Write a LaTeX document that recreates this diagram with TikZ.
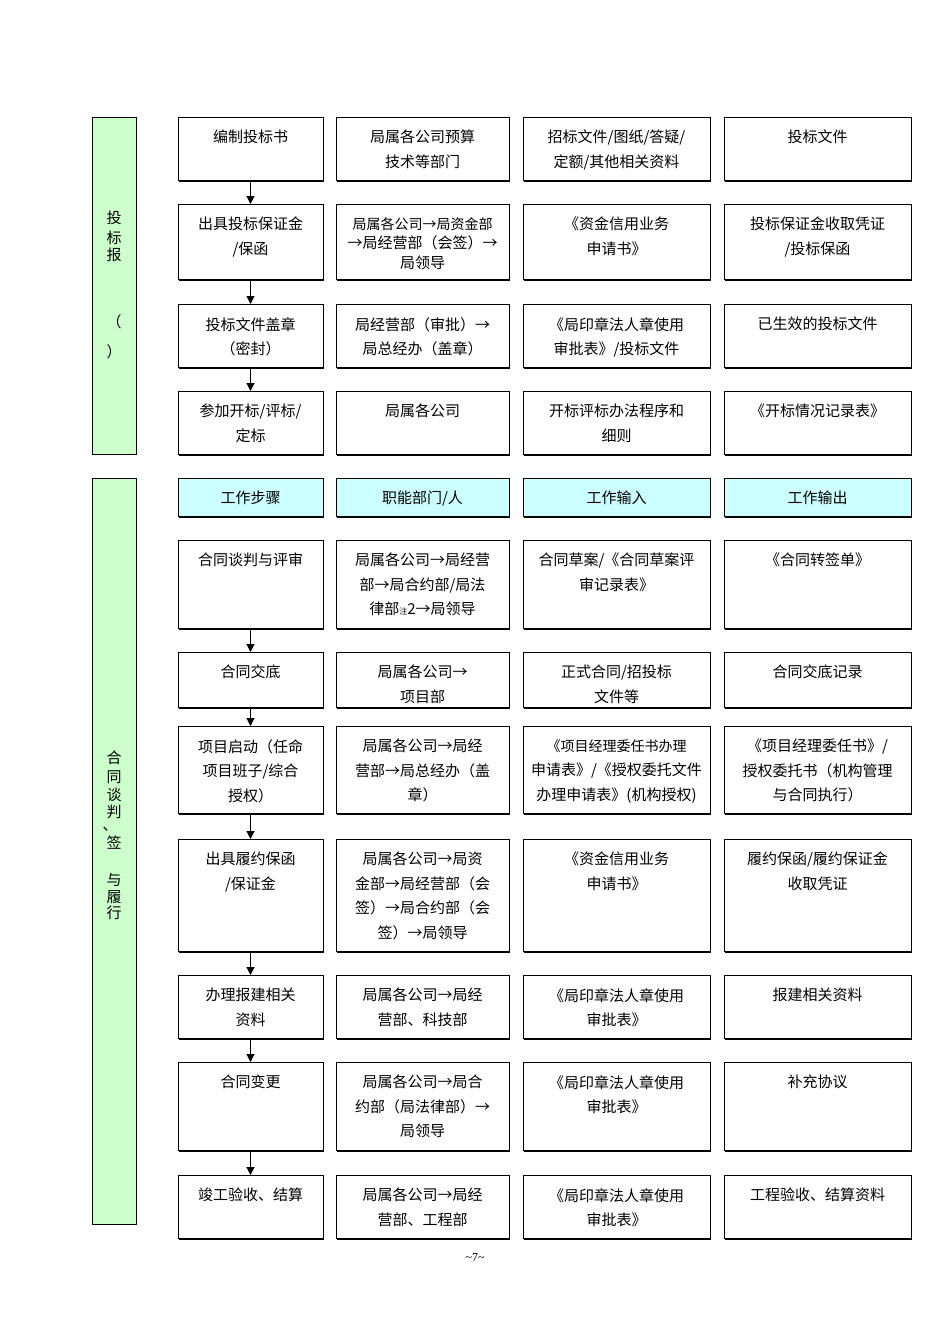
\documentclass[tikz,border=0pt]{standalone}
\usepackage{fontspec}
\setmainfont{Liberation Serif}
\newfontfamily\cjk{Noto Sans CJK SC}
\usetikzlibrary{arrows.meta}
\definecolor{lgreen}{RGB}{204,255,204}
\definecolor{lcyan}{RGB}{204,255,255}
\tikzset{
 cellbox/.style={draw, line width=0.8pt, inner sep=0pt, outer sep=0pt, anchor=north west},
 celltext/.style={anchor=north, inner sep=0pt, align=center, font=\cjk\fontsize{15}{24.5}\selectfont},
 flow/.style={-{Triangle[length=8pt,width=8pt]}, line width=1pt},
 bar/.style={draw, line width=0.8pt, fill=lgreen},
 vch/.style={font=\cjk\fontsize{15}{15}\selectfont, inner sep=0pt}
}
% \cell{name}{x1}{x2}{y1}{y2}{fill}{text}
\newcommand\cell[7]{%
 \fill (#2+0.8,#4+1.8) rectangle (#3+0.8,#5+1.8);
 \node[cellbox, fill=#6, minimum width={#3-#2}, minimum height={#5-#4}] (#1) at (#2,#4) {};
 \node[celltext] (#1t) at ({(#2+#3)/2},#4+13) {#7};}
\newcommand\rowA[6]{%
 \cell{#1a}{178}{323}{#2}{#3}{white}{#4}
 \cell{#1b}{336}{509}{#2}{#3}{white}{#5}
 \cell{#1c}{523}{710}{#2}{#3}{white}{#6}}
\newcommand\rowB[4]{\cell{#1d}{724}{911}{#2}{#3}{white}{#4}}
\newcommand\sm{\fontsize{14}{24.5}\selectfont}
\begin{document}
\begin{tikzpicture}[x=1pt,y=-1pt]
\useasboundingbox (0,0) rectangle (950,1344);
\fill[white] (0,0) rectangle (950,1344);
% left bars
\draw[bar] (92,117) rectangle (136,454);
\draw[bar] (92,478) rectangle (136,1224);
\foreach \c/\y in {投/218,标/238,报/255,（/322,）/352}
  \node[vch] at (114,\y) {\c};
\foreach \c/\y in {合/758,同/777,谈/795,判/812,签/843,与/880,履/897,行/913}
  \node[vch] at (114,\y) {\c};
\node[vch] at (110,829) {、};
% top section
\rowA{p}{117}{180}{编制投标书}{局属各公司预算\\技术等部门}{招标文件/图纸/答疑/\\定额/其他相关资料}
\rowB{p}{117}{180}{投标文件}
\rowA{q}{204}{279}{出具投标保证金\\/保函}{\sm 局属各公司→局资金部\\[-5pt]→局经营部（会签）→\\[-5pt]局领导}{《资金信用业务\\申请书》}
\rowB{q}{204}{279}{投标保证金收取凭证\\/投标保函}
\rowA{r}{304}{367}{投标文件盖章\\（密封）}{局经营部（审批）→\\局总经办（盖章）}{《局印章法人章使用\\审批表》/投标文件}
\rowB{r}{304}{367}{已生效的投标文件}
\rowA{s}{391}{454}{参加开标/评标/\\定标}{局属各公司}{开标评标办法程序和\\细则}
\rowB{s}{391}{454}{《开标情况记录表》}
% header
\cell{ha}{178}{323}{478}{516}{lcyan}{工作步骤}
\cell{hb}{336}{509}{478}{516}{lcyan}{职能部门/人}
\cell{hc}{523}{710}{478}{516}{lcyan}{工作输入}
\cell{hd}{724}{911}{478}{516}{lcyan}{工作输出}
% bottom section
\rowA{a}{540}{628}{合同谈判与评审}{局属各公司→局经营\\部→局合约部/局法\\律部{\fontsize{8}{8}\selectfont 注}2→局领导}{合同草案/《合同草案评\\审记录表》}
\rowB{a}{540}{628}{《合同转签单》}
\rowA{b}{652}{707}{合同交底}{局属各公司→\\项目部}{正式合同/招投标\\文件等}
\rowB{b}{652}{707}{合同交底记录}
\rowA{c}{726}{813}{项目启动（任命\\项目班子/综合\\授权）}{局属各公司→局经\\营部→局总经办（盖\\章）}{\sm《项目经理委任书办理\\申请表》/《授权委托文件\\办理申请表》(机构授权)}
\rowB{c}{726}{813}{《项目经理委任书》/\\授权委托书（机构管理\\与合同执行）}
\rowA{d}{839}{951}{出具履约保函\\/保证金}{局属各公司→局资\\金部→局经营部（会\\签）→局合约部（会\\签）→局领导}{《资金信用业务\\申请书》}
\rowB{d}{839}{951}{履约保函/履约保证金\\收取凭证}
\rowA{e}{975}{1038}{办理报建相关\\资料}{局属各公司→局经\\营部、科技部}{《局印章法人章使用\\审批表》}
\rowB{e}{975}{1038}{报建相关资料}
\rowA{f}{1062}{1150}{合同变更}{局属各公司→局合\\约部（局法律部）→\\局领导}{《局印章法人章使用\\审批表》}
\rowB{f}{1062}{1150}{补充协议}
\rowA{g}{1175}{1238}{竣工验收、结算}{局属各公司→局经\\营部、工程部}{《局印章法人章使用\\审批表》}
\rowB{g}{1175}{1238}{工程验收、结算资料}
% arrows
\foreach \u/\v in {pa/qa,qa/ra,ra/sa,aa/ba,ba/ca,ca/da,da/ea,ea/fa,fa/ga}
  \draw[flow] ([yshift=-1.8pt]\u.south) -- (\v.north);
\node[font=\fontsize{12}{12}\selectfont] (pg) at (475,1258) {\textasciitilde 7\textasciitilde};
\end{tikzpicture}
\end{document}
